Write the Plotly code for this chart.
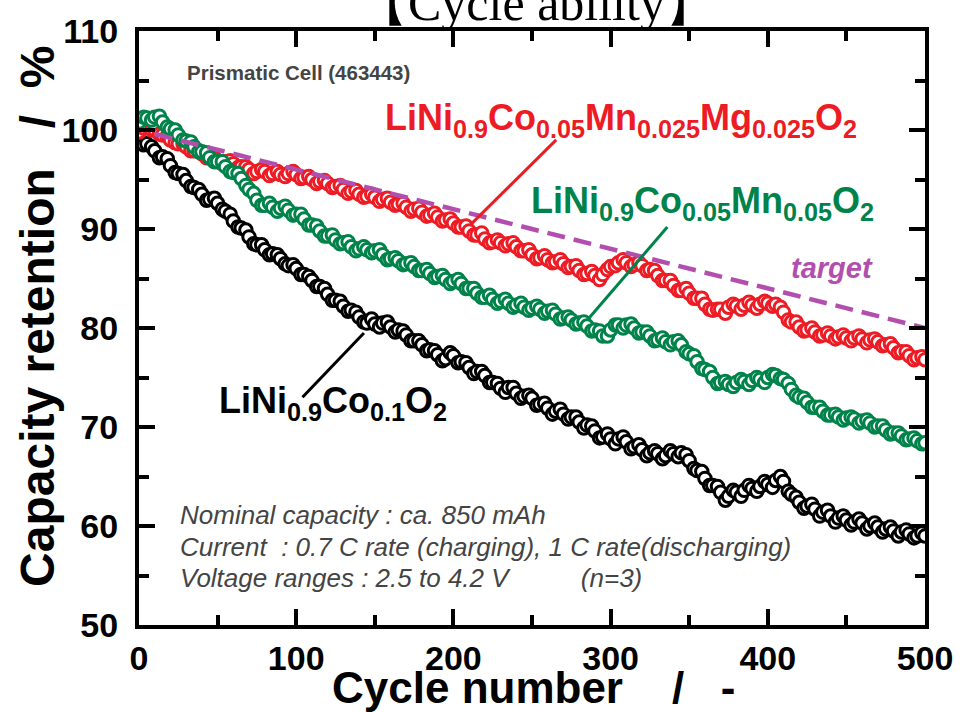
import plotly.graph_objects as go

# two interleaved sets of readings (cycles ...0/5 and ...3/8)
cycles_a = list(range(0, 501, 5))
cycles_b = list(range(3, 500, 5))

lini_co_a = [99.0, 98.6, 97.9, 97.3, 96.4, 95.6, 94.9, 94.2, 93.5, 93.0,
             92.6, 91.8, 90.8, 90.1, 89.2, 88.4, 87.9, 87.5, 87.0, 86.3,
             86.0, 85.4, 84.8, 84.2, 83.4, 82.8, 82.2, 81.8, 81.1, 80.5,
             80.4, 80.5, 80.1, 79.8, 79.3, 78.7, 78.3, 77.8, 77.3, 76.9,
             77.2, 76.6, 76.0, 75.6, 75.2, 74.5, 73.9, 74.0, 73.4, 73.1,
             72.9, 72.3, 71.9, 71.6, 71.3, 71.0, 70.5, 70.2, 69.6, 69.0,
             68.8, 68.8, 68.5, 68.0, 67.7, 67.4, 67.3, 67.1, 67.3, 67.4,
             66.6, 65.6, 64.8, 64.1, 63.4, 63.0, 63.4, 63.6, 63.8, 64.0,
             64.2, 64.6, 64.5, 63.2, 62.4, 62.0, 61.7, 61.4, 61.0, 60.8,
             60.6, 60.4, 60.3, 60.0, 59.9, 59.7, 59.5, 59.4, 59.2, 59.0,
             59.0]
lini_co_b = [98.5, 98.3, 97.2, 97.1, 95.7, 95.5, 94.3, 94.0, 92.9, 93.1,
             92.0, 91.5, 90.2, 89.9, 88.5, 88.4, 87.4, 87.4, 86.5, 86.4,
             85.4, 85.2, 84.2, 84.0, 82.8, 82.7, 81.7, 81.6, 80.6, 80.9,
             80.1, 80.6, 79.6, 79.7, 78.7, 78.7, 77.7, 77.7, 76.7, 77.5,
             76.5, 76.5, 75.4, 75.6, 74.5, 74.4, 73.5, 74.0, 72.9, 73.2,
             72.2, 72.4, 71.3, 71.8, 70.8, 71.0, 69.9, 70.1, 68.9, 69.3,
             68.3, 69.0, 67.8, 68.2, 67.1, 67.6, 66.8, 67.6, 67.0, 67.2,
             65.8, 65.5, 64.1, 64.0, 62.6, 63.6, 63.0, 64.1, 63.5, 64.5,
             63.9, 65.0, 63.5, 62.9, 61.8, 62.2, 61.0, 61.6, 60.4, 61.0,
             60.1, 60.7, 59.7, 60.3, 59.4, 59.9, 59.0, 59.6, 58.8, 59.3]

lini_mg_a = [99.8, 100.4, 100.0, 99.5, 99.0, 98.6, 98.3, 97.9, 97.6, 97.2,
             96.9, 96.8, 96.6, 96.3, 96.0, 95.8, 95.8, 95.6, 95.5, 95.6,
             95.5, 95.2, 95.0, 94.8, 94.6, 94.3, 94.0, 93.8, 93.5, 93.3,
             93.2, 93.0, 92.7, 92.5, 92.2, 92.0, 91.7, 91.4, 91.2, 90.9,
             90.6, 90.2, 89.8, 89.4, 89.0, 88.7, 88.6, 88.5, 88.2, 87.8,
             87.4, 87.1, 86.9, 86.7, 86.5, 86.2, 85.8, 85.5, 85.3, 85.4,
             86.2, 86.6, 86.6, 86.4, 86.3, 85.9, 85.3, 84.8, 84.3, 83.8,
             83.5, 83.0, 82.4, 81.8, 81.9, 82.1, 82.2, 82.3, 82.3, 82.4,
             82.5, 82.4, 81.6, 80.6, 80.1, 79.8, 79.6, 79.3, 79.2, 79.1,
             79.0, 79.0, 78.9, 78.8, 78.6, 78.3, 78.0, 77.6, 77.2, 77.0,
             76.8]
lini_mg_b = [100.2, 100.0, 99.6, 99.4, 98.7, 98.6, 97.9, 97.9, 97.2, 97.2,
             96.6, 96.9, 96.2, 96.3, 95.6, 96.0, 95.4, 95.8, 95.3, 95.8,
             95.1, 95.3, 94.6, 94.9, 94.2, 94.4, 93.6, 93.9, 93.2, 93.5,
             92.8, 93.1, 92.4, 92.6, 91.8, 92.1, 91.3, 91.6, 90.8, 91.0,
             90.2, 90.3, 89.4, 89.6, 88.6, 88.9, 88.3, 88.6, 87.8, 87.9,
             87.0, 87.3, 86.6, 86.9, 86.1, 86.3, 85.4, 85.7, 84.9, 85.9,
             86.3, 86.9, 86.2, 86.6, 85.8, 85.8, 84.8, 84.8, 83.8, 84.0,
             83.0, 83.0, 81.9, 81.9, 81.5, 82.4, 81.9, 82.6, 82.0, 82.7,
             82.2, 82.1, 80.8, 80.6, 79.7, 80.0, 79.2, 79.5, 78.9, 79.3,
             78.7, 79.2, 78.5, 78.9, 78.2, 78.4, 77.5, 77.6, 76.8, 77.1]

lini_mn_a = [100.8, 101.2, 101.3, 100.8, 100.1, 99.5, 98.9, 98.3, 97.8, 97.2,
             96.8, 96.3, 95.7, 95.1, 94.0, 92.9, 92.4, 92.2, 92.1, 91.9,
             91.5, 91.0, 90.4, 89.8, 89.3, 88.9, 88.6, 88.2, 88.0, 87.9,
             87.8, 87.4, 87.0, 86.8, 86.5, 86.2, 85.8, 85.5, 85.2, 84.9,
             84.7, 84.5, 84.0, 83.5, 83.1, 82.9, 82.7, 82.5, 82.3, 82.1,
             82.0, 81.9, 81.7, 81.4, 81.0, 80.8, 80.5, 80.2, 79.8, 79.2,
             79.8, 80.3, 80.3, 80.0, 79.6, 79.2, 78.8, 78.6, 78.6, 78.3,
             77.4, 76.6, 75.8, 75.0, 74.5, 74.3, 74.5, 74.6, 74.7, 74.8,
             75.0, 75.2, 74.8, 73.8, 73.0, 72.5, 72.0, 71.6, 71.2, 71.0,
             70.9, 70.8, 70.6, 70.4, 70.1, 69.7, 69.4, 69.1, 68.8, 68.6,
             68.4]
lini_mn_b = [101.3, 101.0, 101.4, 100.3, 100.0, 99.0, 98.8, 97.8, 97.7, 96.8,
             96.8, 95.8, 95.6, 94.4, 93.6, 92.4, 92.6, 91.8, 92.3, 91.4,
             91.5, 90.4, 90.3, 89.3, 89.4, 88.5, 88.7, 87.8, 88.2, 87.6,
             87.9, 86.9, 87.1, 86.4, 86.6, 85.8, 85.9, 85.1, 85.3, 84.5,
             84.9, 84.0, 84.0, 83.1, 83.3, 82.5, 82.9, 82.1, 82.5, 81.8,
             82.2, 81.5, 81.8, 80.9, 81.1, 80.4, 80.6, 79.7, 79.7, 79.2,
             80.3, 80.0, 80.4, 79.5, 79.6, 78.7, 79.0, 78.3, 78.7, 77.6,
             77.2, 75.9, 75.6, 74.4, 74.6, 74.1, 74.8, 74.3, 75.0, 74.5,
             75.3, 74.9, 74.4, 73.2, 72.9, 72.0, 72.0, 71.2, 71.3, 70.7,
             71.0, 70.4, 70.7, 70.0, 70.1, 69.3, 69.4, 68.7, 68.9, 68.3]

target_x = [10, 500]
target_y = [99.6, 80.0]

x_ticks = [0, 100, 200, 300, 400, 500]
y_ticks = [50, 60, 70, 80, 90, 100, 110]

RED = "#ED1C24"
GREEN = "#00834A"
BLACK = "#000000"
PURPLE = "#B24FAE"
FONT = "Liberation Sans, Arial, sans-serif"

fig = go.Figure()


def add_series(ya, yb, color):
    pts = sorted(zip(cycles_a + cycles_b, ya + yb))
    fig.add_trace(go.Scatter(
        x=[p[0] for p in pts], y=[p[1] for p in pts], mode="markers",
        marker=dict(symbol="circle", size=12.5, color="white",
                    line=dict(color=color, width=3)),
        showlegend=False, hoverinfo="skip"))


add_series(lini_co_a, lini_co_b, BLACK)
add_series(lini_mg_a, lini_mg_b, RED)
add_series(lini_mn_a, lini_mn_b, GREEN)

fig.add_trace(go.Scatter(
    x=target_x, y=target_y, mode="lines",
    line=dict(color=PURPLE, width=4.5, dash="18px,9px"),
    showlegend=False, hoverinfo="skip"))

# pointer lines (data coordinates)
pointers = [
    (211.9, 90.6, 265.4, 99.0, RED),
    (286.3, 81.0, 336.1, 90.2, GREEN),
    (104.0, 73.0, 143.1, 79.5, BLACK),
]
for x0, y0, x1, y1, c in pointers:
    fig.add_shape(type="line", xref="x", yref="y", x0=x0, y0=y0, x1=x1, y1=y1,
                  line=dict(color=c, width=3))


def ann(text, x, y, color, size, xanchor="left", italic=False, bold=True):
    fig.add_annotation(
        x=x, y=y, xref="x", yref="y", text=text, showarrow=False,
        xanchor=xanchor, yanchor="middle",
        font=dict(family=FONT, size=size, color=color,
                  style="italic" if italic else "normal",
                  weight="bold" if bold else "normal"))


ann("Prismatic Cell (463443)", 101.5, 105.8, "#444444", 20.5, xanchor="center")
ann("LiNi<sub>0.9</sub>Co<sub>0.05</sub>Mn<sub>0.025</sub>Mg<sub>0.025</sub>O<sub>2</sub>",
    155.5, 101.0, RED, 36)
ann("LiNi<sub>0.9</sub>Co<sub>0.05</sub>Mn<sub>0.05</sub>O<sub>2</sub>",
    248.0, 92.6, GREEN, 36)
ann("LiNi<sub>0.9</sub>Co<sub>0.1</sub>O<sub>2</sub>", 49.5, 72.4, BLACK, 36)
ann("target", 441, 86.1, PURPLE, 29, xanchor="center", italic=True)

notes = [
    ("Nominal capacity : ca. 850 mAh", 61.1),
    ("Current&nbsp; : 0.7 C rate (charging), 1 C rate(discharging)", 57.9),
    ("Voltage ranges : 2.5 to 4.2 V&nbsp;&nbsp;&nbsp;&nbsp;&nbsp;&nbsp;&nbsp;&nbsp;&nbsp; (n=3)", 54.7),
]
for t, yy in notes:
    ann(t, 24.6, yy, "#444444", 26, italic=True, bold=False)

# clipped title at the top
fig.add_annotation(
    x=0.506, y=1, xref="paper", yref="paper", text="【Cycle ability】",
    showarrow=False, xanchor="center", yanchor="bottom", yshift=-2,
    font=dict(family="Liberation Serif, Times New Roman, serif", size=50, color="black"))

# axis titles
fig.add_annotation(
    x=-0.13, y=0.52, xref="paper", yref="paper",
    text="<b>Capacity retention&nbsp;&nbsp;&nbsp;/&nbsp;&nbsp;%</b>", showarrow=False,
    textangle=-90, xanchor="center", yanchor="middle",
    font=dict(family=FONT, size=48, color="black"))
fig.add_annotation(
    x=0.502, y=-0.106, xref="paper", yref="paper",
    text="<b>Cycle number&nbsp;&nbsp;&nbsp; /&nbsp;&nbsp; -</b>", showarrow=False,
    xanchor="center", yanchor="middle",
    font=dict(family=FONT, size=44, color="black"))

axis_common = dict(
    showline=True, linecolor="black", linewidth=4, mirror="allticks",
    ticks="inside", tickwidth=4, ticklen=16, tickcolor="black",
    showgrid=False, zeroline=False,
    tickfont=dict(family=FONT, size=34, color="black", weight="bold"),
)

fig.update_xaxes(range=[0, 500], tickvals=x_ticks,
                 minor=dict(ticks="inside", ticklen=10, tickwidth=4, dtick=50, tick0=0,
                            tickcolor="black", showgrid=False),
                 ticklabelstandoff=0, **axis_common)
fig.update_yaxes(range=[50, 110], tickvals=y_ticks,
                 minor=dict(ticks="inside", ticklen=10, tickwidth=4, dtick=5, tick0=0,
                            tickcolor="black", showgrid=False),
                 ticklabelstandoff=10, **axis_common)

fig.update_layout(
    width=965, height=712,
    margin=dict(l=139, r=33, t=31, b=87),
    paper_bgcolor="white", plot_bgcolor="white",
    showlegend=False,
)

fig.write_html("out.html")
